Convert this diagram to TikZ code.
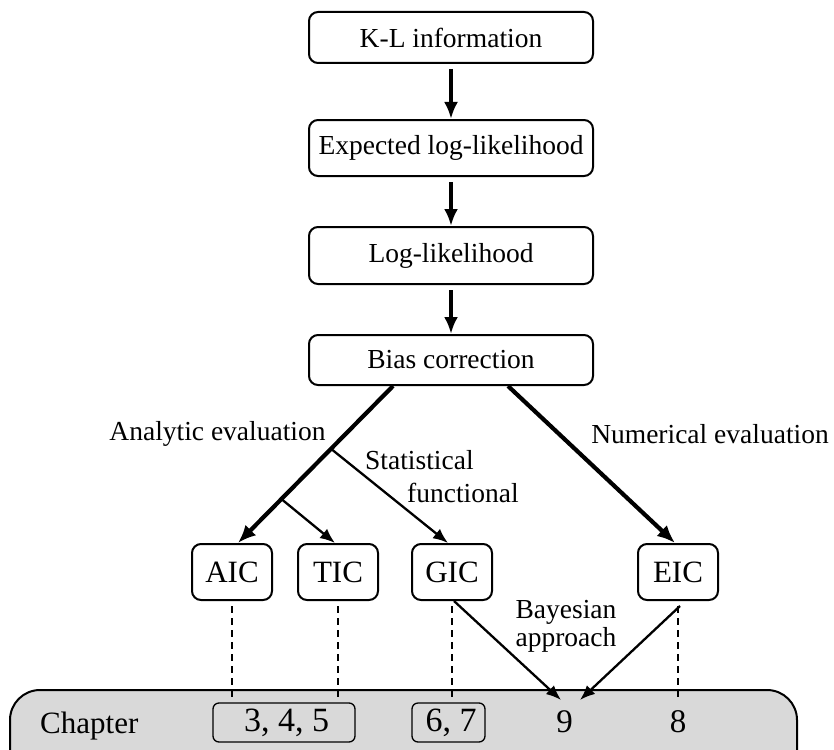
\documentclass[tikz,border=0pt]{standalone}
\usepackage{fontspec}
\setmainfont{Liberation Serif}
\usetikzlibrary{arrows.meta,calc}
\definecolor{bandgray}{RGB}{217,217,217}
\begin{document}
\begin{tikzpicture}[x=1pt,y=-1pt,
  topbox/.style={draw, line width=2pt, rounded corners=9pt, minimum width=284pt, inner sep=0pt, font=\fontsize{27.5}{30}\selectfont},
  icbox/.style={draw, line width=2pt, rounded corners=9pt, minimum width=80pt, minimum height=56pt, inner sep=0pt, font=\fontsize{31}{34}\selectfont},
  chbox/.style={draw, line width=1.3pt, rounded corners=6pt, fill=bandgray, minimum height=39pt, inner sep=0pt, font=\fontsize{34}{36}\selectfont},
  lbl/.style={font=\fontsize{27.5}{30}\selectfont, inner sep=0pt},
  numtxt/.style={font=\fontsize{33}{36}\selectfont, inner sep=0pt},
  varrow/.style={line width=3.6pt, -{Latex[length=17pt,width=14pt]}},
  boldarrow/.style={line width=4.2pt, -{Latex[length=18pt,width=15pt]}},
  thinarrow/.style={line width=2.3pt, -{Latex[length=15pt,width=12pt]}},
  dashline/.style={line width=1.8pt, dash pattern=on 7pt off 5pt},
]
\useasboundingbox (0,0) rectangle (834,749);
\clip (0,0) rectangle (834,749);

% chapter band
\draw[line width=2pt, fill=bandgray, rounded corners=30pt] (10,690) rectangle (797,780);

% top chain
\node[topbox, minimum height=51pt] (kl) at (451,37.5) {K-L information};
\node[topbox, minimum height=56pt] (exp) at (451,148) {Expected log-likelihood};
\node[topbox, minimum height=57pt] (ll) at (451,255.5) {Log-likelihood};
\node[topbox, minimum height=50pt] (bias) at (451,360) {Bias correction};

\draw[varrow] ([yshift=-5pt]kl.south) -- (exp.north);
\draw[varrow] ([yshift=-5pt]exp.south) -- (ll.north);
\draw[varrow] ([yshift=-5pt]ll.south) -- (bias.north);

% criteria boxes
\node[icbox] (aic) at (232,572) {AIC};
\node[icbox] (tic) at (338,572) {TIC};
\node[icbox] (gic) at (452,572) {GIC};
\node[icbox] (eic) at (678,572) {EIC};

% branches
\draw[boldarrow] ($(bias.south)+(-58,0)$) -- coordinate[pos=0.4] (j1) coordinate[pos=0.72] (j2) ($(aic.north)+(6,0)$);
\draw[boldarrow] ($(bias.south)+(57,0)$) -- ($(eic.north)+(-3,0)$);
\draw[thinarrow] (j1) -- ($(gic.north)+(-4,0)$);
\draw[thinarrow] (j2) -- ($(tic.north)+(-3,0)$);

% labels
\node[lbl, anchor=base] (lae) at (217.5,440) {Analytic evaluation};
\node[lbl, anchor=base] (lne) at (710,443) {Numerical evaluation};
\node[lbl, anchor=base west] (lst) at (365,469) {Statistical};
\node[lbl, anchor=base west] (lfu) at (407,502) {functional};
\node[lbl, anchor=base] (lba) at (566,618) {Bayesian};
\node[lbl, anchor=base] (lap) at (566,646) {approach};

% chapter contents
\node[font=\fontsize{31}{34}\selectfont, inner sep=0pt, anchor=base west] (chap) at (40,733) {Chapter};
\node[chbox, minimum width=142pt] (c345) at (284,722.5) {\hspace*{5pt}3, 4, 5};
\node[chbox, minimum width=73pt] (c67) at (448.5,722.5) {\hspace*{5pt}6, 7};
\node[numtxt, anchor=base] (c9) at (564.5,732) {9};
\node[numtxt, anchor=base] (c8) at (678,732) {8};

% dashed links
\coordinate (dend) at (0,698);
\draw[dashline] ([yshift=-5pt]aic.south) -- (aic.south |- dend);
\draw[dashline] ([yshift=-5pt]tic.south) -- (tic.south |- dend);
\draw[dashline] ([yshift=-5pt]gic.south) -- (gic.south |- dend);
\draw[dashline] ([yshift=-5pt]eic.south) -- (eic.south |- dend);

% Bayesian arrows
\draw[thinarrow] ([xshift=2pt]gic.south) -- ($(c9.north)+(-3.5,-10)$);
\draw[thinarrow] ([xshift=2pt,yshift=-5pt]eic.south) -- ($(c9.north)+(15.5,-10)$);
\end{tikzpicture}
\end{document}
